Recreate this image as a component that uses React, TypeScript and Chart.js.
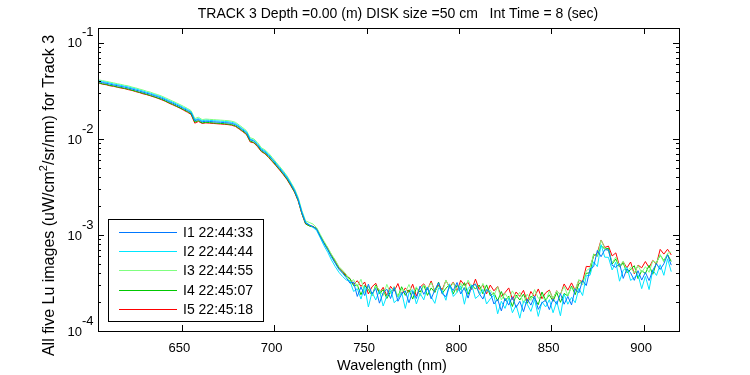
import React, { useEffect, useRef } from 'react';
import { Chart, registerables } from 'chart.js';

Chart.register(...registerables);

// Sampling grid of the spectra (nm), 605 .. 915 every 2 nm
const WAVELENGTHS: number[] = Array.from({ length: 156 }, (_, i) => 605 + 2 * i);

const I1_VALUES = [
  0.0395, 0.0386, 0.0380, 0.0372, 0.0365, 0.0359, 0.0352, 0.0346, 0.0339, 0.0331,
  0.0323, 0.0315, 0.0307, 0.0299, 0.0292, 0.0283, 0.0275, 0.0266, 0.0256, 0.0245,
  0.0236, 0.0226, 0.0217, 0.0207, 0.0198, 0.0188, 0.0155, 0.0159, 0.0151, 0.0153,
  0.0152, 0.0151, 0.0150, 0.0149, 0.0148, 0.0147, 0.0145, 0.0141, 0.0133, 0.0124,
  0.0116, 0.0098, 0.0095, 0.0087, 0.0077, 0.0073, 0.0067, 0.0061, 0.00546, 0.00491,
  0.00440, 0.00391, 0.00338, 0.00289, 0.00233, 0.00171, 0.00134, 0.00127, 0.00122, 0.00115,
  0.00096, 0.00081, 0.00070, 0.00059, 0.00051, 0.00044, 0.00040, 0.00036,
  3.15e-4, 3.23e-4, 2.29e-4, 2.87e-4, 2.34e-4, 3.07e-4, 2.43e-4, 2.78e-4, 1.95e-4, 2.50e-4,
  2.73e-4, 2.18e-4, 2.84e-4, 2.04e-4, 2.42e-4, 2.61e-4, 1.97e-4, 2.59e-4, 2.18e-4, 2.94e-4,
  2.41e-4, 2.83e-4, 2.16e-4, 2.68e-4, 3.18e-4, 2.44e-4, 2.28e-4, 2.98e-4, 2.64e-4, 3.20e-4,
  2.43e-4, 2.83e-4, 2.20e-4, 2.94e-4, 3.07e-4, 2.46e-4, 2.15e-4, 2.71e-4, 2.52e-4, 1.91e-4,
  2.14e-4, 1.62e-4, 2.19e-4, 1.86e-4, 2.27e-4, 1.76e-4, 2.04e-4, 1.59e-4, 2.15e-4, 1.86e-4,
  2.31e-4, 1.68e-4, 1.97e-4, 2.09e-4, 1.67e-4, 2.16e-4, 1.90e-4, 2.45e-4, 1.90e-4, 2.29e-4,
  1.87e-4, 2.75e-4, 2.50e-4, 3.37e-4, 2.97e-4, 4.42e-4, 4.69e-4, 6.91e-4, 5.94e-4, 7.01e-4,
  7.01e-4, 4.83e-4, 4.60e-4, 5.03e-4, 3.53e-4, 4.43e-4, 4.03e-4, 3.37e-4, 4.25e-4, 3.39e-4,
  4.08e-4, 3.35e-4, 4.29e-4, 5.03e-4, 4.37e-4, 5.01e-4, 6.21e-4, 4.85e-4,
];

const I2_VALUES = [
  0.0404, 0.0396, 0.0389, 0.0382, 0.0374, 0.0368, 0.0361, 0.0354, 0.0348, 0.0339,
  0.0332, 0.0323, 0.0315, 0.0306, 0.0299, 0.0290, 0.0282, 0.0273, 0.0262, 0.0251,
  0.0242, 0.0232, 0.0222, 0.0212, 0.0203, 0.0192, 0.0158, 0.0163, 0.0155, 0.0157,
  0.0156, 0.0155, 0.0154, 0.0153, 0.0152, 0.0151, 0.0149, 0.0145, 0.0136, 0.0127,
  0.0119, 0.0100, 0.0097, 0.0089, 0.0079, 0.0075, 0.0069, 0.0062, 0.00560, 0.00503,
  0.00451, 0.00401, 0.00346, 0.00296, 0.00238, 0.00174, 0.00136, 0.00128, 0.00120, 0.00111,
  0.00093, 0.00077, 0.00066, 0.00055, 0.00047, 0.00041, 0.00037, 0.00034,
  3.33e-4, 2.58e-4, 2.76e-4, 2.15e-4, 2.91e-4, 1.78e-4, 2.54e-4, 2.10e-4, 2.65e-4, 1.82e-4,
  2.32e-4, 2.75e-4, 1.97e-4, 2.16e-4, 2.54e-4, 1.72e-4, 2.49e-4, 2.69e-4, 1.91e-4, 2.47e-4,
  2.11e-4, 2.88e-4, 2.28e-4, 1.94e-4, 2.80e-4, 2.63e-4, 2.09e-4, 3.10e-4, 2.29e-4, 2.53e-4,
  2.95e-4, 1.90e-4, 2.78e-4, 3.01e-4, 2.18e-4, 2.36e-4, 2.71e-4, 1.91e-4, 2.16e-4, 2.37e-4,
  1.51e-4, 2.04e-4, 1.72e-4, 2.19e-4, 1.55e-4, 1.86e-4, 1.36e-4, 2.05e-4, 1.90e-4, 1.60e-4,
  2.13e-4, 1.42e-4, 2.01e-4, 1.78e-4, 2.12e-4, 1.55e-4, 2.04e-4, 1.44e-4, 2.42e-4, 1.90e-4,
  2.24e-4, 1.97e-4, 2.79e-4, 2.34e-4, 3.77e-4, 3.80e-4, 5.25e-4, 4.68e-4, 7.92e-4, 5.87e-4,
  5.85e-4, 4.32e-4, 5.21e-4, 3.30e-4, 4.30e-4, 4.59e-4, 3.36e-4, 3.61e-4, 3.86e-4, 2.76e-4,
  3.71e-4, 2.70e-4, 4.32e-4, 3.79e-4, 4.90e-4, 3.80e-4, 5.64e-4, 4.15e-4,
];

const I3_VALUES = [
  0.0412, 0.0405, 0.0398, 0.0391, 0.0384, 0.0376, 0.0370, 0.0362, 0.0357, 0.0347,
  0.0340, 0.0331, 0.0323, 0.0314, 0.0307, 0.0297, 0.0289, 0.0280, 0.0269, 0.0258,
  0.0248, 0.0238, 0.0228, 0.0218, 0.0208, 0.0197, 0.0163, 0.0168, 0.0159, 0.0161,
  0.0160, 0.0159, 0.0158, 0.0157, 0.0156, 0.0155, 0.0153, 0.0149, 0.0140, 0.0131,
  0.0122, 0.0103, 0.0100, 0.0092, 0.0081, 0.0077, 0.0071, 0.0064, 0.00574, 0.00516,
  0.00463, 0.00411, 0.00355, 0.00304, 0.00246, 0.00180, 0.00140, 0.00135, 0.00130, 0.00119,
  0.00101, 0.00086, 0.00074, 0.00063, 0.00055, 0.00047, 0.00043, 0.00039,
  3.23e-4, 3.43e-4, 2.89e-4, 3.46e-4, 2.51e-4, 2.94e-4, 2.33e-4, 2.94e-4, 2.70e-4, 2.34e-4,
  3.06e-4, 2.45e-4, 2.92e-4, 2.26e-4, 2.73e-4, 2.53e-4, 3.05e-4, 2.43e-4, 2.89e-4, 2.31e-4,
  3.04e-4, 2.73e-4, 3.19e-4, 2.62e-4, 2.93e-4, 2.52e-4, 3.40e-4, 2.77e-4, 3.19e-4, 2.52e-4,
  3.14e-4, 2.65e-4, 3.39e-4, 2.84e-4, 3.11e-4, 2.46e-4, 3.13e-4, 2.58e-4, 2.66e-4, 2.34e-4,
  2.89e-4, 2.11e-4, 2.46e-4, 2.15e-4, 2.62e-4, 2.22e-4, 2.53e-4, 1.95e-4, 2.42e-4, 2.08e-4,
  2.70e-4, 2.19e-4, 2.37e-4, 2.01e-4, 2.62e-4, 2.18e-4, 2.61e-4, 2.42e-4, 2.91e-4, 2.34e-4,
  2.85e-4, 2.70e-4, 3.44e-4, 3.01e-4, 4.24e-4, 4.51e-4, 6.26e-4, 6.09e-4, 8.81e-4, 7.26e-4,
  6.78e-4, 5.16e-4, 5.87e-4, 4.71e-4, 5.36e-4, 4.13e-4, 4.58e-4, 4.01e-4, 4.81e-4, 4.06e-4,
  4.68e-4, 4.08e-4, 5.37e-4, 5.13e-4, 6.26e-4, 5.21e-4, 6.44e-4, 6.63e-4,
];

const I4_VALUES = [
  0.0386, 0.0375, 0.0371, 0.0361, 0.0357, 0.0348, 0.0344, 0.0336, 0.0331, 0.0322,
  0.0315, 0.0306, 0.0300, 0.0291, 0.0284, 0.0276, 0.0267, 0.0260, 0.0249, 0.0239,
  0.0230, 0.0220, 0.0211, 0.0202, 0.0193, 0.0183, 0.0150, 0.0155, 0.0147, 0.0149,
  0.0148, 0.0147, 0.0146, 0.0145, 0.0144, 0.0143, 0.0141, 0.0137, 0.0129, 0.0121,
  0.0113, 0.0095, 0.0092, 0.0085, 0.0075, 0.0071, 0.0065, 0.0059, 0.00532, 0.00479,
  0.00429, 0.00381, 0.00330, 0.00282, 0.00228, 0.00167, 0.00131, 0.00124, 0.00121, 0.00117,
  0.00098, 0.00083, 0.00071, 0.00061, 0.00052, 0.00045, 0.00041, 0.00037,
  3.52e-4, 2.96e-4, 3.02e-4, 2.38e-4, 2.98e-4, 2.70e-4, 2.34e-4, 3.02e-4, 2.43e-4, 2.70e-4,
  2.18e-4, 2.57e-4, 2.75e-4, 2.27e-4, 2.89e-4, 2.35e-4, 2.68e-4, 2.15e-4, 2.81e-4, 2.54e-4,
  3.01e-4, 2.35e-4, 2.81e-4, 2.52e-4, 3.23e-4, 2.46e-4, 2.79e-4, 3.04e-4, 2.44e-4, 2.99e-4,
  2.71e-4, 3.19e-4, 2.41e-4, 3.02e-4, 2.73e-4, 3.01e-4, 2.44e-4, 3.02e-4, 2.33e-4, 2.50e-4,
  2.06e-4, 2.58e-4, 2.06e-4, 2.30e-4, 1.80e-4, 2.37e-4, 2.10e-4, 2.42e-4, 1.94e-4, 2.30e-4,
  2.19e-4, 1.88e-4, 2.55e-4, 2.09e-4, 2.38e-4, 2.04e-4, 2.52e-4, 1.99e-4, 2.46e-4, 2.32e-4,
  2.94e-4, 2.39e-4, 3.12e-4, 3.25e-4, 3.99e-4, 4.04e-4, 6.32e-4, 6.00e-4, 7.73e-4, 7.14e-4,
  7.27e-4, 4.99e-4, 5.61e-4, 4.63e-4, 5.11e-4, 4.05e-4, 4.36e-4, 4.79e-4, 3.51e-4, 4.25e-4,
  3.97e-4, 4.83e-4, 3.90e-4, 5.13e-4, 6.17e-4, 5.40e-4, 6.26e-4, 5.30e-4,
];

const I5_VALUES = [
  0.0382, 0.0372, 0.0367, 0.0358, 0.0353, 0.0346, 0.0339, 0.0334, 0.0326, 0.0320,
  0.0311, 0.0304, 0.0295, 0.0289, 0.0281, 0.0273, 0.0265, 0.0256, 0.0247, 0.0236,
  0.0227, 0.0218, 0.0209, 0.0199, 0.0190, 0.0180, 0.0146, 0.0152, 0.0145, 0.0147,
  0.0146, 0.0145, 0.0144, 0.0143, 0.0142, 0.0141, 0.0139, 0.0135, 0.0127, 0.0119,
  0.0111, 0.0093, 0.0091, 0.0083, 0.0074, 0.0070, 0.0064, 0.0058, 0.00525, 0.00472,
  0.00423, 0.00376, 0.00325, 0.00279, 0.00226, 0.00166, 0.00130, 0.00125, 0.00123, 0.00116,
  0.00097, 0.00084, 0.00073, 0.00062, 0.00054, 0.00046, 0.00042, 0.00038,
  3.52e-4, 3.06e-4, 3.34e-4, 2.91e-4, 3.24e-4, 2.43e-4, 2.89e-4, 3.14e-4, 2.49e-4, 2.85e-4,
  2.33e-4, 2.92e-4, 2.60e-4, 3.12e-4, 2.41e-4, 2.81e-4, 2.52e-4, 3.07e-4, 2.31e-4, 2.86e-4,
  3.10e-4, 2.69e-4, 3.32e-4, 2.57e-4, 3.02e-4, 2.68e-4, 3.36e-4, 2.86e-4, 3.24e-4, 2.58e-4,
  3.37e-4, 3.00e-4, 3.21e-4, 2.70e-4, 3.47e-4, 2.71e-4, 3.01e-4, 2.44e-4, 3.01e-4, 2.62e-4,
  2.91e-4, 2.29e-4, 2.51e-4, 2.81e-4, 2.13e-4, 2.55e-4, 2.29e-4, 2.65e-4, 2.04e-4, 2.58e-4,
  2.26e-4, 2.74e-4, 2.17e-4, 2.50e-4, 2.67e-4, 2.15e-4, 2.63e-4, 2.39e-4, 3.09e-4, 2.66e-4,
  3.17e-4, 2.65e-4, 3.37e-4, 3.27e-4, 4.71e-4, 4.67e-4, 6.04e-4, 6.50e-4, 8.87e-4, 7.40e-4,
  7.66e-4, 6.05e-4, 6.51e-4, 4.72e-4, 5.25e-4, 4.55e-4, 5.23e-4, 3.94e-4, 4.86e-4, 4.55e-4,
  5.29e-4, 4.57e-4, 5.43e-4, 4.98e-4, 7.08e-4, 6.32e-4, 7.10e-4, 6.20e-4,
];

const SERIES_LABELS = ['I1 22:44:33', 'I2 22:44:44', 'I3 22:44:55', 'I4 22:45:07', 'I5 22:45:18'];
const SERIES_VALUES = [I1_VALUES, I2_VALUES, I3_VALUES, I4_VALUES, I5_VALUES];
const SERIES_COLORS = ['rgb(0,120,255)', 'rgb(0,230,255)', 'rgb(128,255,128)', 'rgb(0,200,0)', 'rgb(255,0,0)'];

const X_TICKS = [650, 700, 750, 800, 850, 900];
const Y_DECADE_EXPONENTS = [-4, -3, -2, -1];
const X_MIN = 604.6;
const X_MAX = 919.2;
const Y_MIN = 1e-4;
const Y_MAX = 0.143;

const TITLE = 'TRACK 3 Depth =0.00 (m) DISK size =50 cm   Int Time = 8 (sec)';
const X_LABEL = 'Wavelength (nm)';
const Y_LABEL_PARTS = ['All five Lu images (uW/cm', '2', '/sr/nm) for Track 3'];

const FONT = '"Liberation Sans", Arial, Helvetica, sans-serif';

const matlabAxesPlugin = {
  id: 'matlabAxes',
  afterDraw(chart: any) {
    const ctx: CanvasRenderingContext2D = chart.ctx;
    const { left, right, top, bottom } = chart.chartArea;
    const xs = chart.scales.x;
    const ys = chart.scales.y;
    ctx.save();
    ctx.strokeStyle = '#000';
    ctx.fillStyle = '#000';
    ctx.lineWidth = 1;

    // frame
    ctx.strokeRect(left + 0.5, top + 0.5, right - left, bottom - top);

    // x ticks (bottom and top, inward)
    ctx.beginPath();
    X_TICKS.forEach((t) => {
      const px = Math.round(xs.getPixelForValue(t)) + 0.5;
      ctx.moveTo(px, bottom);
      ctx.lineTo(px, bottom - 6);
      ctx.moveTo(px, top);
      ctx.lineTo(px, top + 6);
    });
    // y ticks (left and right, inward), major + minor
    Y_DECADE_EXPONENTS.forEach((e) => {
      for (let m = 1; m <= 9; m++) {
        const v = m * Math.pow(10, e);
        if (v > Y_MAX || v < Y_MIN) continue;
        const py = Math.round(ys.getPixelForValue(v)) + 0.5;
        const len = m === 1 ? 6 : 3;
        ctx.moveTo(left, py);
        ctx.lineTo(left + len, py);
        ctx.moveTo(right, py);
        ctx.lineTo(right - len, py);
      }
    });
    ctx.stroke();

    // x tick labels
    ctx.font = `13px ${FONT}`;
    ctx.textAlign = 'center';
    ctx.textBaseline = 'middle';
    X_TICKS.forEach((t) => {
      ctx.fillText(String(t), xs.getPixelForValue(t) - 2.5, bottom + 17);
    });
    // x label
    ctx.font = `14.5px ${FONT}`;
    ctx.fillText(X_LABEL, (left + right) / 2 + 3.5, bottom + 35);

    // y tick labels: 10 with raised exponent
    ctx.font = `13px ${FONT}`;
    Y_DECADE_EXPONENTS.forEach((e) => {
      const py = ys.getPixelForValue(Math.pow(10, e));
      ctx.textAlign = 'right';
      ctx.fillText('10', left - 16, py + 1);
      ctx.textAlign = 'left';
      ctx.fillText(String(e), left - 16, py - 10);
    });

    // title
    ctx.font = `14px ${FONT}`;
    ctx.textAlign = 'center';
    ctx.fillText(TITLE, (left + right) / 2 + 9.5, top - 14);

    // y label (rotated, superscript 2)
    ctx.save();
    ctx.translate(left - 48, (top + bottom) / 2 + 16);
    ctx.rotate(-Math.PI / 2);
    ctx.textAlign = 'left';
    ctx.font = `16px ${FONT}`;
    const w1 = ctx.measureText(Y_LABEL_PARTS[0]).width;
    const w3 = ctx.measureText(Y_LABEL_PARTS[2]).width;
    ctx.font = `11px ${FONT}`;
    const w2 = ctx.measureText(Y_LABEL_PARTS[1]).width;
    const total = w1 + w2 + w3;
    let cx = -total / 2;
    ctx.font = `16px ${FONT}`;
    ctx.fillText(Y_LABEL_PARTS[0], cx, 0);
    cx += w1;
    ctx.font = `11px ${FONT}`;
    ctx.fillText(Y_LABEL_PARTS[1], cx, -6);
    cx += w2;
    ctx.font = `16px ${FONT}`;
    ctx.fillText(Y_LABEL_PARTS[2], cx, 0);
    ctx.restore();

    // legend box inside the axes, lower-left
    const lx = left + 10;
    const ly = bottom - 112;
    const lw = 155;
    const lh = 102;
    ctx.fillStyle = '#fff';
    ctx.fillRect(lx, ly, lw, lh);
    ctx.strokeStyle = '#000';
    ctx.strokeRect(lx + 0.5, ly + 0.5, lw, lh);
    ctx.textAlign = 'left';
    ctx.textBaseline = 'middle';
    ctx.font = `14px ${FONT}`;
    SERIES_LABELS.forEach((label, i) => {
      const ry = Math.round(ly + 12.7 + i * 19.3) + 0.5;
      ctx.strokeStyle = SERIES_COLORS[i];
      ctx.beginPath();
      ctx.moveTo(lx + 11, ry);
      ctx.lineTo(lx + 69, ry);
      ctx.stroke();
      ctx.fillStyle = '#000';
      ctx.fillText(label, lx + 75, ry + 0.5);
    });

    ctx.restore();
  },
};

export default function App() {
  const canvasRef = useRef<HTMLCanvasElement | null>(null);

  useEffect(() => {
    if (!canvasRef.current) return;
    const datasets = SERIES_VALUES.map((vals, i) => ({
      label: SERIES_LABELS[i],
      data: WAVELENGTHS.map((x, j) => ({ x, y: vals[j] })),
      borderColor: SERIES_COLORS[i],
      backgroundColor: SERIES_COLORS[i],
      borderWidth: 1,
      pointRadius: 0,
      tension: 0,
      fill: false,
    }));
    const chart = new Chart(canvasRef.current, {
      type: 'line',
      data: { datasets },
      options: {
        animation: false,
        responsive: false,
        devicePixelRatio: 1,
        layout: { padding: { left: 98, top: 28, right: 71, bottom: 44 } },
        plugins: {
          legend: { display: false },
          title: { display: false },
          tooltip: { enabled: false },
        },
        scales: {
          x: { type: 'linear', min: X_MIN, max: X_MAX, display: false },
          y: { type: 'logarithmic', min: Y_MIN, max: Y_MAX, display: false },
        },
      },
      plugins: [matlabAxesPlugin],
    });
    return () => chart.destroy();
  }, []);

  return (
    <div style={{ position: 'fixed', left: 0, top: 0, width: 750, height: 375, background: '#fff' }}>
      <canvas ref={canvasRef} width={750} height={375} style={{ display: 'block' }} />
    </div>
  );
}
